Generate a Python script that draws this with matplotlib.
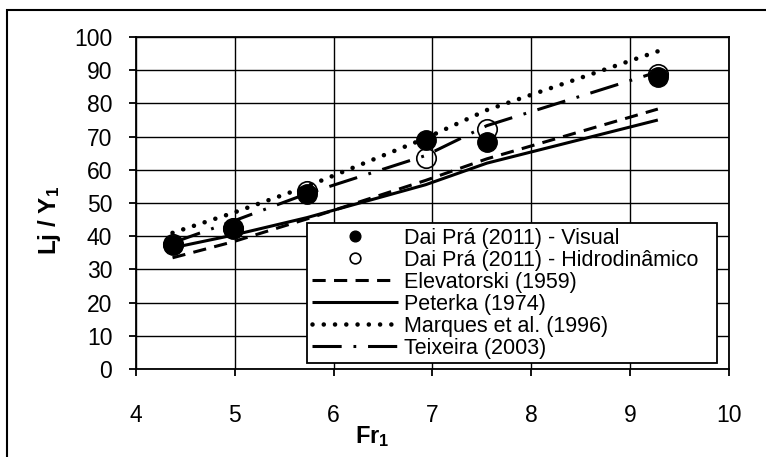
import matplotlib
matplotlib.use("Agg")
import matplotlib.pyplot as plt
from matplotlib.patches import Rectangle

plt.rcParams['font.family'] = ['Liberation Sans', 'DejaVu Sans']
plt.rcParams['mathtext.default'] = 'regular'
plt.rcParams['lines.scale_dashes'] = False

# Froude numbers of the tests
fr1 = [4.37, 4.98, 5.73, 6.93, 7.55, 9.28]

# measured jump lengths Lj/Y1
visual = [37.3, 42.2, 52.6, 68.9, 68.5, 88.0]
hidro = [37.5, 42.5, 53.5, 63.7, 72.2, 89.0]

# literature estimates at the same Fr1
elevatorski = [33.5, 38.3, 45.2, 56.8, 63.3, 78.3]
peterka = [36.5, 40.3, 45.6, 55.5, 62.0, 75.0]
marques = [41.0, 47.0, 55.0, 69.5, 78.0, 95.7]
teixeira = [38.0, 44.5, 52.8, 64.3, 73.3, 89.5]

xticks = [4, 5, 6, 7, 8, 9, 10]
yticks = list(range(0, 101, 10))

fig = plt.figure(figsize=(7.66, 4.57), dpi=100)
ax = fig.add_axes([0.1775, 0.1926, 0.7742, 0.7264])

lw = 2.2
ax.plot(fr1, visual, linestyle='none', marker='o', ms=14, color='black',
        label='Dai Prá (2011) - Visual', zorder=6)
ax.plot(fr1, hidro, linestyle='none', marker='o', ms=14, mfc='none', mec='black',
        mew=1.2, label='Dai Prá (2011) - Hidrodinâmico', zorder=5)
ax.plot(fr1, elevatorski, color='black', lw=lw, dashes=(9.5, 6),
        label='Elevatorski (1959)', zorder=4)
ax.plot(fr1, peterka, color='black', lw=lw, solid_capstyle='butt',
        label='Peterka (1974)', zorder=4)
ax.plot(fr1, marques, color='black', lw=3.3, dashes=(0.01, 8.1),
        dash_capstyle='round', label='Marques et al. (1996)', zorder=4)
ax.plot(fr1, teixeira, color='black', lw=lw, dashes=(21, 8.5, 2, 8.5),
        label='Teixeira (2003)', zorder=4)

ax.set_xlim(4, 10)
ax.set_ylim(0, 100)
ax.set_xticks(xticks)
ax.set_yticks(yticks)
ax.grid(True, color='black', lw=1.0)
ax.set_axisbelow(True)
for s in ax.spines.values():
    s.set_linewidth(1.3)
ax.tick_params(axis='y', direction='out', length=5, width=1.3, pad=12, labelsize=16.5)
ax.tick_params(axis='x', direction='out', length=5, width=1.3, pad=20, labelsize=16.5)

ax.set_ylabel('Lj / Y$_1$', fontsize=17.5, fontweight='bold', va='center')
ax.yaxis.set_label_coords(-0.145, 0.449)
ax.set_xlabel('Fr$_1$', fontsize=17, fontweight='bold', va='center')
ax.xaxis.set_label_coords(0.398, -0.205)

leg = ax.legend(loc='lower left', bbox_to_anchor=(0.289, 0.017, 0.691, 0.417),
                mode='expand', borderaxespad=0, fontsize=15.5, frameon=True,
                fancybox=False, edgecolor='black', framealpha=1,
                markerscale=0.55, handlelength=4.0, handletextpad=0.3,
                labelspacing=0.05, borderpad=0.2)
leg.get_frame().set_linewidth(1.3)
leg.set_zorder(10)

# outer frame around the figure
fig.patches.append(Rectangle((7 / 766, -0.5), 1.5, 0.5 + (1 - 10 / 457),
                             transform=fig.transFigure, fill=False,
                             edgecolor='black', lw=1.5, clip_on=False))

fig.savefig('out.png', dpi=100)
